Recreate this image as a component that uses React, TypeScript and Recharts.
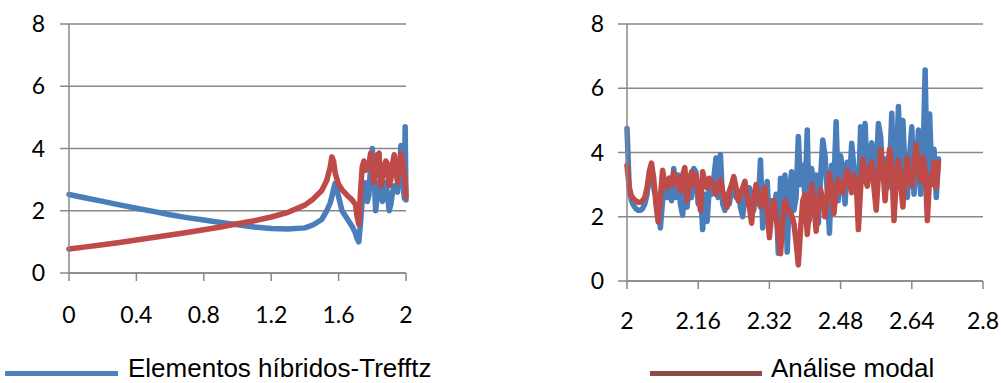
import { LineChart, Line, XAxis, YAxis, CartesianGrid } from "recharts";

// left panel: frequency 0 - 2
const leftX = [
  0, 0.1, 0.2, 0.3, 0.4, 0.5, 0.6, 0.7, 0.8, 0.9, 1.0, 1.1, 1.2, 1.3, 1.4,
  1.45, 1.5, 1.53, 1.55, 1.56, 1.57, 1.58, 1.6, 1.62, 1.65, 1.68, 1.7, 1.71, 1.72,
  1.73, 1.74, 1.75, 1.76, 1.77, 1.78, 1.79, 1.8, 1.81, 1.82, 1.83, 1.84, 1.85, 1.86,
  1.87, 1.88, 1.89, 1.9, 1.91, 1.92, 1.93, 1.94, 1.95, 1.96, 1.97, 1.98, 1.99, 1.995, 2.0,
];
const leftHybrid = [
  2.52, 2.41, 2.3, 2.19, 2.08, 1.98, 1.87, 1.78, 1.7, 1.62, 1.55, 1.48, 1.43, 1.41, 1.45,
  1.55, 1.72, 2.0, 2.25, 2.45, 2.7, 2.88, 2.45, 2.0, 1.75, 1.5, 1.28, 1.1, 1.0,
  1.6, 2.3, 2.9, 2.9, 2.3, 2.5, 3.5, 4.0, 3.2, 2.0, 2.5, 2.9, 2.8, 2.3,
  2.6, 2.9, 2.5, 2.0, 2.2, 2.6, 2.8, 2.7, 2.6, 3.2, 4.1, 3.0, 2.4, 4.7, 2.35,
];
const leftModal = [
  0.77, 0.84, 0.91, 0.98, 1.06, 1.14, 1.22, 1.3, 1.39, 1.48, 1.58, 1.68, 1.8, 1.95, 2.18,
  2.38, 2.65, 2.98, 3.4, 3.73, 3.6, 3.2, 2.85, 2.68, 2.5, 2.35, 2.2, 1.8, 1.56,
  2.6, 3.4, 3.6, 3.3, 3.4, 3.5, 3.85, 3.2, 2.9, 3.3, 3.8, 3.85, 2.8, 3.0,
  3.4, 3.6, 3.5, 2.8, 3.0, 3.5, 3.8, 3.3, 2.9, 3.4, 3.85, 3.6, 3.2, 3.0, 2.45,
];

// right panel: frequency 2 - 2.7
const rightX = [
  2.0, 2.005, 2.01, 2.015, 2.02, 2.025, 2.03, 2.035, 2.04, 2.045,
  2.05, 2.055, 2.06, 2.065, 2.07, 2.075, 2.08, 2.085, 2.09, 2.095,
  2.1, 2.105, 2.11, 2.115, 2.12, 2.125, 2.13, 2.135, 2.14, 2.145,
  2.15, 2.155, 2.16, 2.165, 2.17, 2.175, 2.18, 2.185, 2.19, 2.195,
  2.2, 2.205, 2.21, 2.215, 2.22, 2.225, 2.23, 2.235, 2.24, 2.245,
  2.25, 2.255, 2.26, 2.265, 2.27, 2.275, 2.28, 2.285, 2.29, 2.295,
  2.3, 2.305, 2.31, 2.315, 2.32, 2.325, 2.33, 2.335, 2.34, 2.345,
  2.35, 2.355, 2.36, 2.365, 2.37, 2.375, 2.38, 2.385, 2.39, 2.395,
  2.4, 2.405, 2.41, 2.415, 2.42, 2.425, 2.43, 2.435, 2.44, 2.445,
  2.45, 2.455, 2.46, 2.465, 2.47, 2.475, 2.48, 2.485, 2.49, 2.495,
  2.5, 2.505, 2.51, 2.515, 2.52, 2.525, 2.53, 2.535, 2.54, 2.545,
  2.55, 2.555, 2.56, 2.565, 2.57, 2.575, 2.58, 2.585, 2.59, 2.595,
  2.6, 2.605, 2.61, 2.615, 2.62, 2.625, 2.63, 2.635, 2.64, 2.645,
  2.65, 2.655, 2.66, 2.665, 2.67, 2.675, 2.68, 2.685, 2.69, 2.695,
  2.7,
];
const rightHybrid = [
  4.75, 2.9, 2.5, 2.35, 2.25, 2.2, 2.2, 2.25, 2.4, 2.7,
  3.3, 3.5, 2.9, 2.6, 2.3, 1.65, 2.5, 2.9, 2.6, 3.2,
  2.5, 3.5, 2.6, 3.3, 2.4, 2.05, 2.9, 2.3, 3.0, 2.6,
  3.5, 3.4, 2.4, 2.9, 1.6, 2.7, 1.85, 2.9, 2.7, 3.2,
  3.83, 2.6, 3.93, 2.4, 2.2, 2.7, 2.4, 2.9, 3.1, 2.6,
  2.8, 2.3, 2.0, 2.7, 2.4, 2.9, 2.6, 2.2, 2.9, 2.4,
  3.77, 1.65, 2.4, 3.1, 1.7, 2.5, 2.2, 2.7, 0.86, 3.2,
  2.2, 3.3, 0.9, 2.8, 3.4, 2.2, 2.6, 4.5, 3.0, 3.6,
  2.6, 4.7, 1.9, 3.5, 2.8, 3.3, 1.8, 3.2, 4.39, 3.9,
  2.8, 1.49, 3.6, 3.0, 4.96, 2.5, 3.9, 3.4, 2.4, 3.7,
  3.1, 4.29, 3.5, 3.0, 2.6, 4.8, 3.6, 4.9, 3.2, 3.9,
  4.3, 3.0, 3.4, 4.9, 4.5, 3.2, 3.8, 2.9, 3.4, 5.22,
  2.2, 3.5, 5.43, 3.0, 5.0, 3.3, 2.6, 3.9, 4.8, 2.7,
  3.5, 4.7, 2.7, 3.6, 6.57, 2.7, 5.2, 3.2, 4.1, 2.6,
  3.8,
];
const rightModal = [
  3.6, 2.9, 2.65, 2.55, 2.5, 2.45, 2.45, 2.5, 2.6, 2.9,
  3.4, 3.67, 3.2, 2.4, 1.84, 2.6, 3.45, 3.0, 2.9, 3.2,
  3.0, 3.37, 3.0, 3.2, 2.8, 3.3, 3.53, 2.5, 3.1, 3.4,
  3.0, 3.3, 2.7, 2.2, 3.4, 3.1, 2.9, 3.2, 3.1, 2.9,
  2.7, 3.0, 3.15, 2.8, 2.5, 2.3, 2.8, 3.0, 3.25, 2.9,
  2.5, 2.7, 2.9, 3.1, 2.6, 2.3, 1.8, 2.6, 3.0, 2.7,
  2.3, 2.6, 2.9, 2.2, 1.35, 2.1, 2.5, 2.0, 1.45, 0.85,
  1.9, 2.5, 2.3, 2.15, 2.05, 1.8, 1.2, 0.5, 1.6, 2.5,
  2.7, 1.45, 2.2, 3.0, 2.4, 1.55, 2.4, 2.85, 2.5, 2.0,
  2.7, 3.35, 2.8, 2.1, 2.9, 3.15, 2.8, 2.75, 3.2, 3.45,
  3.0, 2.75, 3.3, 3.1, 1.6, 2.9, 3.8, 3.2, 2.95, 3.5,
  3.7, 2.9, 2.2, 3.3, 4.1, 3.5, 2.5, 3.4, 4.1, 3.6,
  1.88, 3.2, 3.75, 3.0, 2.3, 3.3, 3.85, 3.1, 2.95, 3.5,
  4.25, 3.4, 3.1, 3.85, 3.5, 1.88, 3.25, 3.0, 3.7, 2.9,
  3.7,
];

const yTicks = [0, 2, 4, 6, 8];
const leftTicks = [0, 0.4, 0.8, 1.2, 1.6, 2];
const rightTicks = [2, 2.16, 2.32, 2.48, 2.64, 2.8];

const BLUE = "#4A7EBB";
const RED = "#BE4B48";
const GRID = "#888888";
const tickFont = { fill: "#000", fontSize: 23, fontFamily: "Lato, 'Open Sans', sans-serif" };

function Panel({ rows, domain, ticks, margin, yMargin, xMargin }: any) {
  return (
    <LineChart width={margin.w} height={340} data={rows} margin={{ top: 24, right: margin.right, left: margin.left, bottom: margin.bottom }}>
      <CartesianGrid horizontal vertical={false} stroke={GRID} strokeWidth={1.5} />
      <XAxis
        type="number"
        dataKey="x"
        domain={domain}
        ticks={ticks}
        interval={0}
        height={40}
        tickSize={8}
        tickMargin={xMargin}
        axisLine={{ stroke: GRID, strokeWidth: 1.5 }}
        tickLine={{ stroke: GRID, strokeWidth: 1.5 }}
        tick={tickFont}
      />
      <YAxis
        type="number"
        domain={[0, 8]}
        ticks={yTicks}
        interval={0}
        width={60}
        tickSize={9}
        tickMargin={yMargin}
        axisLine={{ stroke: GRID, strokeWidth: 1.5 }}
        tickLine={{ stroke: GRID, strokeWidth: 1.5 }}
        tick={tickFont}
      />
      <Line type="linear" dataKey="blue" stroke={BLUE} strokeWidth={5.5} strokeLinejoin="round" strokeLinecap="round" dot={false} isAnimationActive={false} />
      <Line type="linear" dataKey="red" stroke={RED} strokeWidth={5.5} strokeLinejoin="round" strokeLinecap="round" dot={false} isAnimationActive={false} />
    </LineChart>
  );
}

export default function App() {
  const leftRows = leftX.map((x, i) => ({ x, blue: leftHybrid[i], red: leftModal[i] }));
  const rightRows = rightX.map((x, i) => ({ x, blue: rightHybrid[i], red: rightModal[i] }));

  return (
    <div style={{ position: "absolute", left: 0, top: 0, width: 1001, height: 383, background: "#fff", overflow: "hidden" }}>
      <div style={{ position: "absolute", left: 0, top: 0 }}>
        <Panel rows={leftRows} domain={[0, 2]} ticks={leftTicks} margin={{ w: 420, left: 9, right: 14, bottom: 27 }} yMargin={15} xMargin={26} />
      </div>
      <div style={{ position: "absolute", left: 560, top: 0 }}>
        <Panel rows={rightRows} domain={[2, 2.8]} ticks={rightTicks} margin={{ w: 441, left: 7, right: 18, bottom: 19 }} yMargin={14} xMargin={24} />
      </div>
      <svg width={1001} height={43} style={{ position: "absolute", left: 0, top: 340 }}>
        <rect x={5} y={31} width={113} height={5} fill="#4F81BD" />
        <text x={128} y={37} fontFamily="'Liberation Sans', Arial, sans-serif" fontSize={26} fill="#000">
          Elementos híbridos-Trefftz
        </text>
        <rect x={650} y={31} width={112} height={5} fill="#8C4B4B" />
        <text x={771} y={37} fontFamily="'Liberation Sans', Arial, sans-serif" fontSize={26} fill="#000">
          Análise modal
        </text>
      </svg>
    </div>
  );
}
